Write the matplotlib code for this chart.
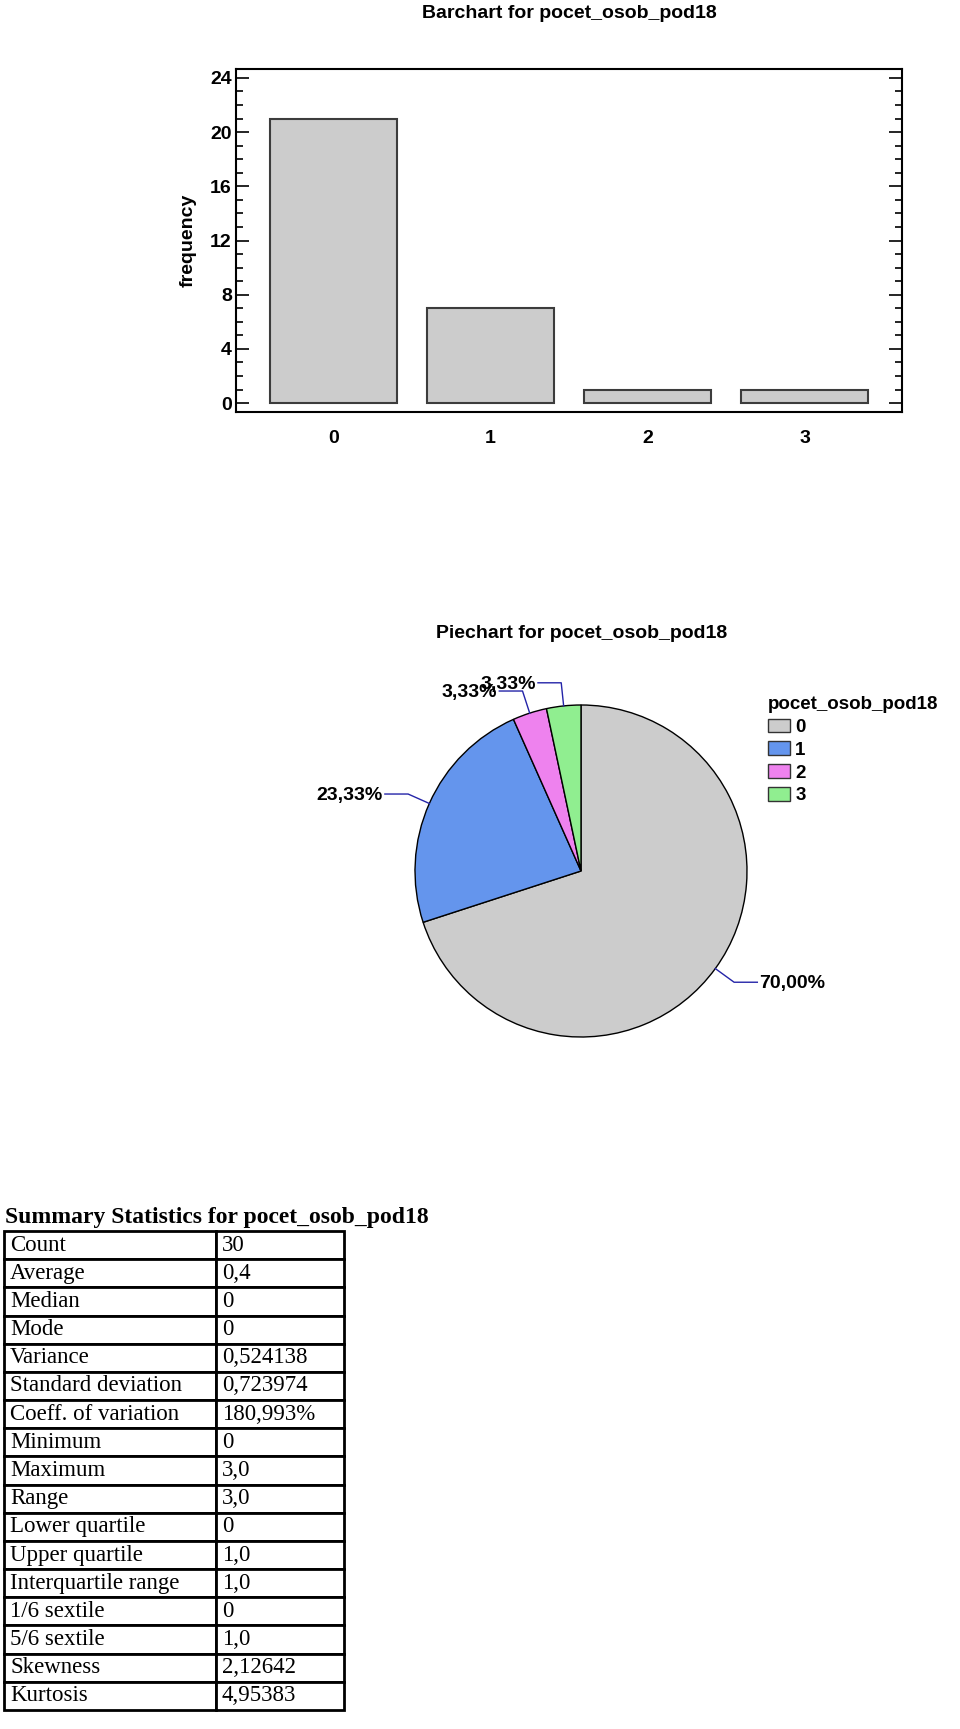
import numpy as np
import matplotlib
matplotlib.use('Agg')
import matplotlib.pyplot as plt
from matplotlib.ticker import MultipleLocator
from matplotlib.patches import Patch

# ── Dados ─────────────────────────────────────────────────────────────────────
var_name   = 'pocet_osob_pod18'
categories = ['0', '1', '2', '3']
freq       = [21, 7, 1, 1]
pie_colors = ['#CCCCCC', '#6495ED', '#EE82EE', '#90EE90']

stat_names = ['Count', 'Average', 'Median', 'Mode', 'Variance',
              'Standard deviation', 'Coeff. of variation', 'Minimum',
              'Maximum', 'Range', 'Lower quartile', 'Upper quartile',
              'Interquartile range', '1/6 sextile', '5/6 sextile',
              'Skewness', 'Kurtosis']
stat_values = ['30', '0,4', '0', '0', '0,524138', '0,723974', '180,993%',
               '0', '3,0', '3,0', '0', '1,0', '1,0', '0', '1,0',
               '2,12642', '4,95383']

# ── Figura (coordenadas em pixels) ────────────────────────────────────────────
W, H = 960, 1729
fig = plt.figure(figsize=(W / 100, H / 100), dpi=100, facecolor='white')
plt.rcParams['font.family'] = ['Liberation Sans', 'DejaVu Sans']


def px_axes(left, top, right, bottom):
    return fig.add_axes([left / W, 1 - bottom / H, (right - left) / W, (bottom - top) / H])


# ── Barchart ──────────────────────────────────────────────────────────────────
ax1 = px_axes(236, 69, 902, 412)
x = np.arange(len(categories))
ax1.bar(x, freq, width=0.81, color='#CCCCCC', edgecolor='#3C3C3C', linewidth=1.5)
ax1.set_xlim(-0.62, 3.62)
ax1.set_ylim(-0.66, 24.66)
ax1.set_xticks(x)
ax1.set_xticklabels(categories, fontsize=14, fontweight='bold')
ax1.yaxis.set_major_locator(MultipleLocator(4))
ax1.yaxis.set_minor_locator(MultipleLocator(1))
ax1.tick_params(axis='x', length=0, pad=13)
ax1.tick_params(axis='y', which='major', direction='in', left=True, right=True,
                length=9.5, width=1.2, labelsize=14, pad=3)
ax1.tick_params(axis='y', which='minor', direction='in', left=True, right=True,
                length=5, width=1.2)
for lbl in ax1.get_yticklabels():
    lbl.set_fontweight('bold')
for sp in ax1.spines.values():
    sp.set_linewidth(1.5)
ax1.set_ylabel('frequency', fontsize=14, fontweight='bold', labelpad=10)
fig.text(569 / W, 1 - 13 / H, f'Barchart for {var_name}', ha='center', va='center',
         fontsize=14, fontweight='bold')

# ── Piechart ──────────────────────────────────────────────────────────────────
r_px = 166
cx, cy = 581, 871
ax2 = px_axes(cx - r_px, cy - r_px, cx + r_px, cy + r_px)
wedges, _ = ax2.pie(freq, colors=pie_colors, startangle=90, counterclock=False,
                    radius=1, wedgeprops=dict(edgecolor='black', linewidth=1))
for w in wedges:
    w.set_clip_on(False)
ax2.set_xlim(-1, 1)
ax2.set_ylim(-1, 1)
ax2.axis('off')

total = sum(freq)
lead = '#2424A8'
for w, f in zip(wedges, freq):
    ang = np.deg2rad((w.theta1 + w.theta2) / 2)
    ca, sa = np.cos(ang), np.sin(ang)
    x1, y1 = 1.14 * ca, 1.14 * sa
    side = 1 if ca >= 0 else -1
    x2 = x1 + side * 0.14
    ax2.plot([ca, x1, x2], [sa, y1, y1], color=lead, linewidth=1, clip_on=False)
    txt = f'{100 * f / total:.2f}%'.replace('.', ',')
    ax2.text(x2 + side * 0.012, y1 - 0.01, txt, ha='left' if side > 0 else 'right',
             va='center', fontsize=14, fontweight='bold')

fig.text(582 / W, 1 - 633 / H, f'Piechart for {var_name}', ha='center', va='center',
         fontsize=14, fontweight='bold')

handles = [Patch(facecolor=c, edgecolor='#333333', linewidth=1) for c in pie_colors]
leg = ax2.legend(handles, categories, title=var_name, loc='upper left',
                 bbox_to_anchor=(768 / W, 1 - 696 / H), bbox_transform=fig.transFigure,
                 frameon=False, borderpad=0, borderaxespad=0, handlelength=1.15,
                 handleheight=0.72, handletextpad=0.3, labelspacing=0.3,
                 alignment='left',
                 prop=dict(size=13.5, weight='bold'),
                 title_fontproperties=dict(size=13.5, weight='bold'))

# ── Summary Statistics ────────────────────────────────────────────────────────
fig.text(5 / W, 1 - 1223 / H, f'Summary Statistics for {var_name}', ha='left',
         va='baseline', fontsize=17, fontweight='bold', family='Liberation Serif')

ax3 = px_axes(4, 1231, 344, 1710)
ax3.axis('off')
col_w = [212, 128]
tab = ax3.table(cellText=[[n, v] for n, v in zip(stat_names, stat_values)],
                cellLoc='left', colWidths=[c / sum(col_w) for c in col_w],
                bbox=[0, 0, 1, 1])
tab.auto_set_font_size(False)
for (row, col), cell in tab.get_celld().items():
    cell.set_linewidth(2)
    cell.set_edgecolor('black')
    cell.PAD = 6 / col_w[col]
    cell.get_text().set_fontsize(16.5)
    cell.get_text().set_family('Liberation Serif')

plt.savefig('out.png', dpi=100, facecolor='white')
plt.close()
